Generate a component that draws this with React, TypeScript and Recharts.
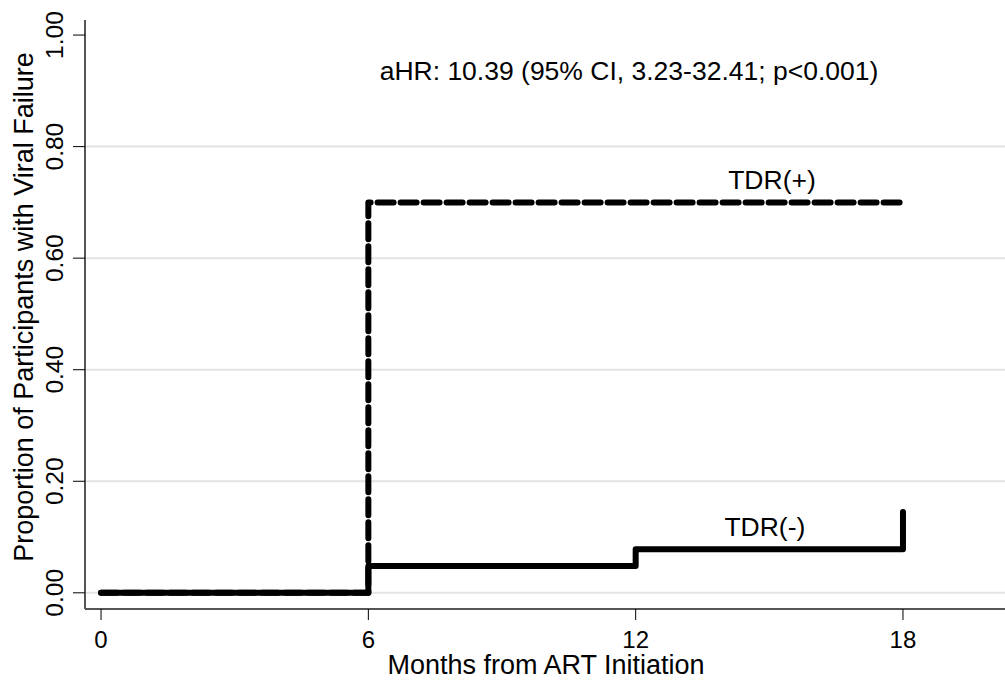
import React from 'react';
import { LineChart, Line, XAxis, YAxis, ReferenceLine, ReferenceDot } from 'recharts';

// Kaplan-Meier style cumulative failure
const tdrPos = [
  { month: 0, p: 0 },
  { month: 6, p: 0.7 },
  { month: 18, p: 0.7 },
];
const tdrNeg = [
  { month: 0, p: 0 },
  { month: 6, p: 0.048 },
  { month: 12, p: 0.078 },
  { month: 18, p: 0.145 },
];
const xTicks = [0, 6, 12, 18];
const yTicks = [0, 0.2, 0.4, 0.6, 0.8, 1.0];
const gridLines = [0, 0.2, 0.4, 0.6, 0.8];

const FONT = '"Liberation Sans", Arial, sans-serif';

const YTick = (props: any) => {
  const { y, payload } = props;
  const bx = 63;
  return (
    <text x={bx} y={y} transform={`rotate(-90, ${bx}, ${y})`} textAnchor="middle"
      fontSize={24.5} fontFamily={FONT} fill="#000">
      {payload.value.toFixed(2)}
    </text>
  );
};

const XTick = (props: any) => {
  const { x, payload } = props;
  return (
    <text x={x} y={648} textAnchor="middle" fontSize={24} fontFamily={FONT} fill="#000">
      {payload.value}
    </text>
  );
};

const labelStyle = { position: 'center' as const, fontSize: 26.5, fontFamily: FONT, fill: '#000' };

function App() {
  return (
    <div style={{ position: 'absolute', left: 0, top: 0, background: '#fff' }}>
      <LineChart width={1005} height={681} margin={{ top: 20, right: 0, bottom: 0, left: 0 }}>
        <XAxis type="number" dataKey="month" domain={[-0.36, 20.29]} ticks={xTicks}
          allowDataOverflow height={72} tick={<XTick />} tickSize={11}
          axisLine={{ stroke: '#555', strokeWidth: 2 }} tickLine={{ stroke: '#000', strokeWidth: 1 }} />
        <YAxis type="number" domain={[-0.029, 1.027]} ticks={yTicks} allowDataOverflow
          width={85} tick={<YTick />} tickSize={12}
          axisLine={{ stroke: '#555', strokeWidth: 2 }} tickLine={{ stroke: '#000', strokeWidth: 1 }} />
        {gridLines.map((g) => (
          <ReferenceLine key={g} y={g} stroke="#e3e3e3" strokeWidth={2} />
        ))}
        <Line data={tdrPos} dataKey="p" type="stepAfter" stroke="#000" strokeWidth={6}
          strokeDasharray="16 7" strokeLinecap="round" strokeLinejoin="round"
          dot={false} activeDot={false} isAnimationActive={false} />
        <Line data={tdrNeg} dataKey="p" type="stepAfter" stroke="#000" strokeWidth={6}
          strokeLinecap="round" strokeLinejoin="round"
          dot={false} activeDot={false} isAnimationActive={false} />
        <ReferenceDot x={15.06} y={0.74} r={0} ifOverflow="visible"
          label={{ value: 'TDR(+)', ...labelStyle }} />
        <ReferenceDot x={14.9} y={0.118} r={0} ifOverflow="visible"
          label={{ value: 'TDR(-)', ...labelStyle }} />
        <ReferenceDot x={11.85} y={0.937} r={0} ifOverflow="visible"
          label={{ value: 'aHR: 10.39 (95% CI, 3.23-32.41; p<0.001)', ...labelStyle }} />
      </LineChart>
      <svg width={1005} height={681} style={{ position: 'absolute', left: 0, top: 0, pointerEvents: 'none' }}>
        <text x={33} y={307} transform="rotate(-90, 33, 307)" textAnchor="middle" fontSize={27} fontFamily={FONT} fill="#000">
          Proportion of Participants with Viral Failure
        </text>
        <text x={546} y={674} textAnchor="middle" fontSize={27} fontFamily={FONT} fill="#000">
          Months from ART Initiation
        </text>
      </svg>
    </div>
  );
}

export default App;
